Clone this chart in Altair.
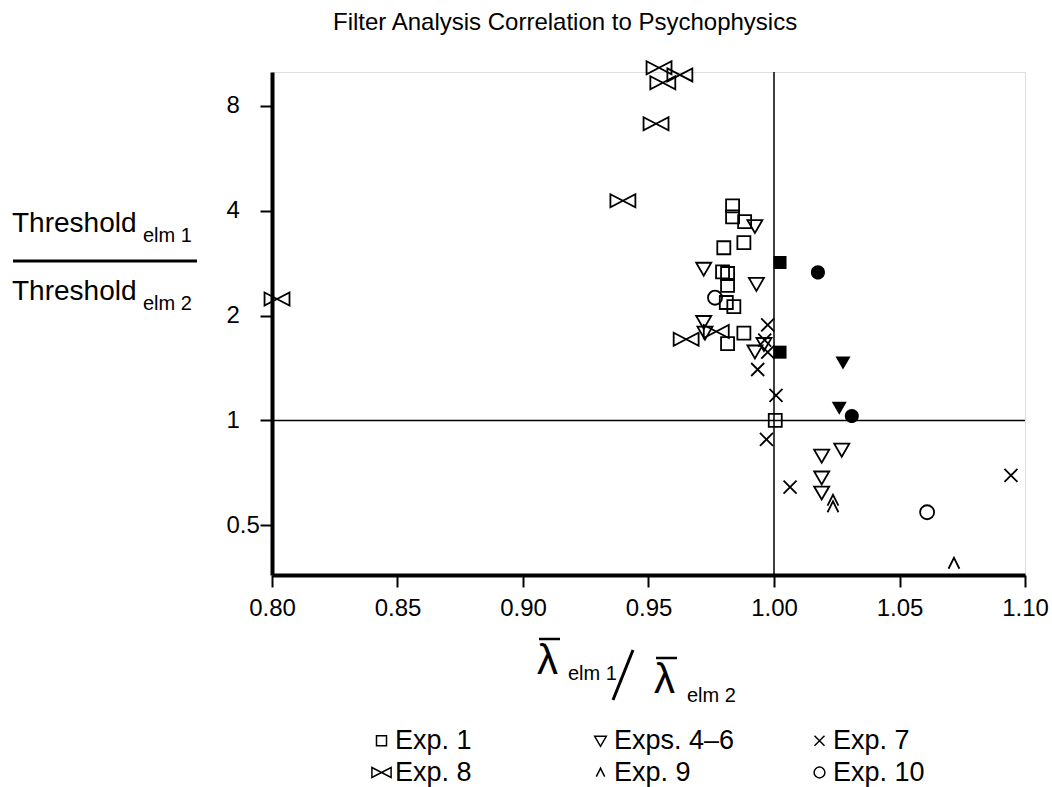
import altair as alt
import pandas as pd

# ---------------- data ----------------
exp1_x = [0.9835, 0.9835, 0.9883, 0.988, 0.980, 0.9795, 0.9815, 0.9815, 0.981, 0.984, 0.988, 0.9815, 1.0005]
exp1_y = [4.13, 3.84, 3.72, 3.24, 3.13, 2.67, 2.64, 2.44, 2.18, 2.12, 1.78, 1.66, 1.0]

exp46_x = [0.9924, 0.972, 0.993, 0.972, 0.9725, 0.9924, 0.996, 1.019, 1.027, 1.019, 1.019]
exp46_y = [3.62, 2.73, 2.47, 1.92, 1.79, 1.58, 1.66, 0.794, 0.826, 0.687, 0.622]

exp7_x = [0.9975, 0.9963, 0.9975, 0.9935, 1.0008, 0.997, 1.0064, 1.0944]
exp7_y = [1.88, 1.70, 1.57, 1.40, 1.18, 0.882, 0.643, 0.695]

exp8_x = [0.802, 0.9398, 0.953, 0.9557, 0.9542, 0.9625, 0.965, 0.977]
exp8_y = [2.23, 4.27, 7.1, 9.31, 10.28, 9.81, 1.71, 1.80]

exp9_x = [1.0235, 1.0235, 1.0717]
exp9_y = [0.59, 0.565, 0.389]

exp10_x = [0.9765, 1.061]
exp10_y = [2.25, 0.545]

filled_sq_x = [1.0024, 1.0024]
filled_sq_y = [2.84, 1.57]
filled_tri_x = [1.0275, 1.026]
filled_tri_y = [1.47, 1.09]
filled_circ_x = [1.0175, 1.031]
filled_circ_y = [2.66, 1.03]

series_names = ["Exp. 1", "Exps. 4\u20136", "Exp. 7", "Exp. 8", "Exp. 9", "Exp. 10"]
# legend fills column by column: order so that rows read as in the reference
legend_order = ["Exp. 1", "Exp. 8", "Exps. 4\u20136", "Exp. 9", "Exp. 7", "Exp. 10"]
x_ticks = [0.80, 0.85, 0.90, 0.95, 1.00, 1.05, 1.10]
y_ticks = [0.5, 1, 2, 4, 8]

# ---------------- marker shapes ----------------
SQUARE = "M-0.5,-0.5H0.5V0.5H-0.5Z"
TRI_DOWN = "M-0.58,-0.44H0.58L0,0.56Z"
XMARK = "M-0.5,-0.5L0.5,0.5M-0.5,0.5L0.5,-0.5"
BOWTIE = "M-0.96,-0.5L0.96,0.5V-0.5L-0.96,0.5Z"
CARET = "M-0.42,0.42L0,-0.42L0.42,0.42"
CIRCLE = "M0.54,0A0.54,0.54,0,1,1,-0.54,0A0.54,0.54,0,1,1,0.54,0Z"
shape_of = {"Exp. 1": SQUARE, "Exps. 4\u20136": TRI_DOWN, "Exp. 7": XMARK,
            "Exp. 8": BOWTIE, "Exp. 9": CARET, "Exp. 10": CIRCLE}

FONT = "Liberation Sans"

groups = [(exp1_x, exp1_y), (exp46_x, exp46_y), (exp7_x, exp7_y),
          (exp8_x, exp8_y), (exp9_x, exp9_y), (exp10_x, exp10_y)]
rows = []
for name, (xs, ys) in zip(series_names, groups):
    for xv, yv in zip(xs, ys):
        rows.append({"series": name, "x": xv, "y": yv})
open_df = pd.DataFrame(rows)

xscale = alt.Scale(domain=[0.8, 1.1], nice=False, zero=False)
yscale = alt.Scale(type="log", domain=[0.36, 10], nice=False)

xaxis = alt.Axis(values=x_ticks, format=".2f", title=None, labelFontSize=24, labelFont=FONT,
                 labelColor="black", labelPadding=9, tickSize=12, tickWidth=2, tickColor="black",
                 domainWidth=4, domainColor="black", grid=False, labelFlush=False)
yaxis = alt.Axis(values=y_ticks, format="~g", title=None, labelFontSize=24, labelFont=FONT,
                 labelColor="black", labelAlign="left", labelBaseline="middle", labelPadding=34,
                 tickSize=12, tickWidth=2, tickColor="black", domainWidth=4, domainColor="black",
                 grid=False)

points = alt.Chart(open_df).mark_point(filled=False, color="black", strokeWidth=1.8, size=676, opacity=1).encode(
    x=alt.X("x:Q", scale=xscale, axis=xaxis),
    y=alt.Y("y:Q", scale=yscale, axis=yaxis),
    shape=alt.Shape("series:N",
                    scale=alt.Scale(domain=legend_order, range=[shape_of[n] for n in legend_order]),
                    legend=alt.Legend(title=None, orient="none", legendX=96, legendY=655, columns=3,
                                      symbolSize=400, symbolStrokeWidth=1.5, symbolStrokeColor="black",
                                      labelFontSize=27, labelFont=FONT, labelColor="black",
                                      columnPadding=71, rowPadding=4, labelOffset=0, gridAlign="all",
                                      labelLimit=300))
)

def filled_layer(xs, ys, path):
    df = pd.DataFrame({"x": xs, "y": ys})
    return alt.Chart(df).mark_point(filled=True, color="black", size=676, opacity=1).encode(
        x="x:Q", y="y:Q", shape=alt.value(path))

f_sq = filled_layer(filled_sq_x, filled_sq_y, SQUARE)
f_tri = filled_layer(filled_tri_x, filled_tri_y, TRI_DOWN)
f_circ = filled_layer(filled_circ_x, filled_circ_y, CIRCLE)

vline = alt.Chart(pd.DataFrame({"x": [1.0]})).mark_rule(color="black", strokeWidth=1.5).encode(x="x:Q")
hline = alt.Chart(pd.DataFrame({"y": [1.0]})).mark_rule(color="black", strokeWidth=1.5).encode(y="y:Q")

one = pd.DataFrame({"a": [0]})

def txt(s, x, y, size, align="left"):
    return alt.Chart(one).mark_text(align=align, baseline="alphabetic", font=FONT, fontSize=size,
                                    color="black").encode(x=alt.value(x), y=alt.value(y), text=alt.value(s))

def seg(x1, x2, y1, y2, w):
    return alt.Chart(one).mark_rule(color="black", strokeWidth=w).encode(
        x=alt.value(x1), x2=alt.value(x2), y=alt.value(y1), y2=alt.value(y2))

# y-axis title: fraction
ytitle = [
    txt("Threshold", -260, 160, 28),
    txt("elm 1", -129, 170, 20),
    seg(-259, -75, 189, 189, 3),
    txt("Threshold", -260, 228, 28),
    txt("elm 2", -129, 238, 20),
]
# x-axis title: lambda-bar ratio
xtitle = [
    txt("\u03bb", 265, 602, 42),
    seg(267, 288, 567, 567, 2.5),
    txt("elm 1", 296, 608, 20),
    seg(341, 361, 628, 578, 3),
    txt("\u03bb", 382, 621, 42),
    seg(384, 405, 586, 586, 2.5),
    txt("elm 2", 415, 630, 20),
]

chart = alt.layer(vline, hline, points, f_sq, f_tri, f_circ, *ytitle, *xtitle).properties(
    width=753, height=503,
    padding={"left": 272, "top": 72, "right": 27, "bottom": 212},
    autosize=alt.AutoSizeParams(type="none"),
    title=alt.TitleParams("Filter Analysis Correlation to Psychophysics", anchor="start", frame="group",
                          dx=61, offset=23, fontSize=24, font=FONT, fontWeight="normal", color="black"),
).configure_view(stroke="black", strokeWidth=2.5).configure(background="white")

chart.save("out.html", embed_options={"renderer": "svg", "actions": False})
